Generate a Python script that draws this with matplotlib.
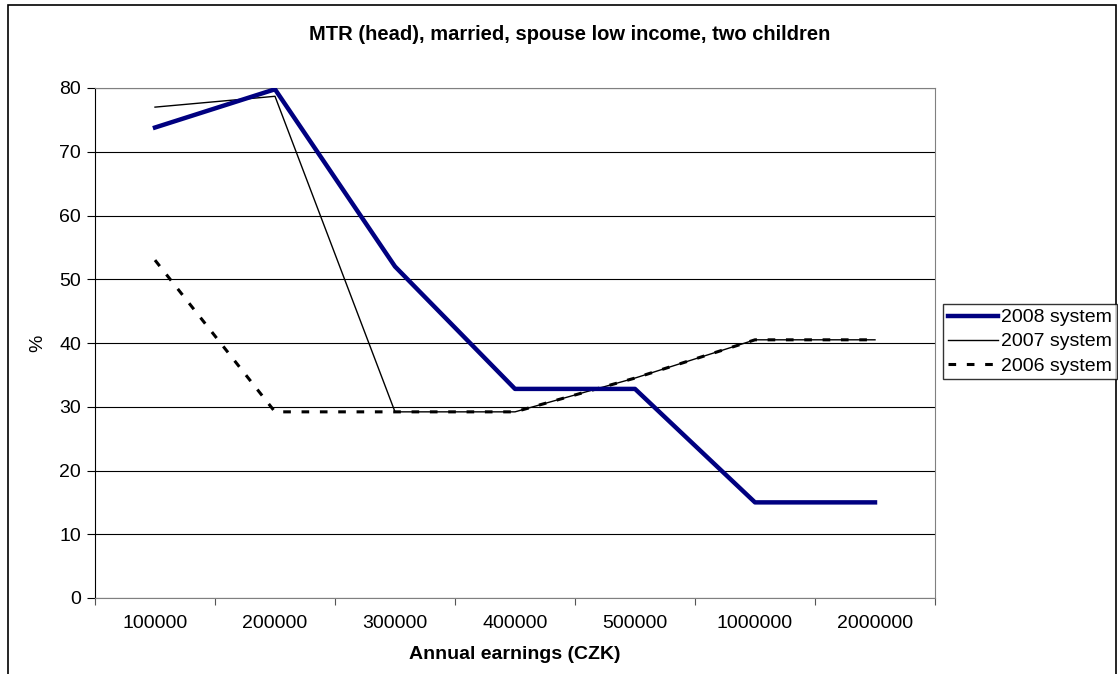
import matplotlib
matplotlib.use("Agg")
import matplotlib.pyplot as plt
from matplotlib.patches import Rectangle

categories = ["100000", "200000", "300000", "400000", "500000", "1000000", "2000000"]
sys2008 = [73.8, 79.8, 52.0, 32.8, 32.8, 15.0, 15.0]
sys2007 = [77.0, 78.7, 29.2, 29.2, 34.5, 40.5, 40.5]
sys2006 = [53.0, 29.2, 29.2, 29.2, 34.5, 40.5, 40.5]

W, H = 1118, 674
plt.rcParams['font.family'] = ['Liberation Sans', 'DejaVu Sans']
fig = plt.figure(figsize=(W/100, H/100), dpi=100)
FS = 14

# outer chart border
fig.patches.append(Rectangle((8/W, -0.1), (W-10)/W, (H-5)/H + 0.1, transform=fig.transFigure,
                             fill=False, edgecolor='black', linewidth=1.2))

ax = fig.add_axes([95/W, (H-598)/H, 840/W, 510/H])
x = list(range(len(categories)))
ax.plot(x, sys2008, color='#000080', linewidth=3.2, label='2008 system', zorder=4)
ax.plot(x, sys2007, color='black', linewidth=1.0, label='2007 system', zorder=3)
ax.plot(x, sys2006, color='black', linewidth=2.2, linestyle=(0, (2.5, 3.5)), label='2006 system', zorder=3)

ax.set_xlim(-0.5, len(categories) - 0.5)
ax.set_ylim(0, 80)
ax.set_yticks(range(0, 81, 10))
ax.yaxis.grid(True, color='black', linewidth=0.8)
ax.set_axisbelow(True)
ax.set_xticks([i - 0.5 for i in range(len(categories) + 1)])
ax.set_xticklabels([])
ax.set_xticks(x, minor=True)
ax.set_xticklabels(categories, minor=True, fontsize=FS)
ax.tick_params(axis='x', which='minor', length=0, pad=12)
ax.tick_params(axis='x', which='major', length=5, direction='out', color='#555555')
ax.tick_params(axis='y', length=6, direction='out', labelsize=FS, pad=4)
for s in ['top', 'right']:
    ax.spines[s].set_color('#808080')
ax.spines['bottom'].set_color('#808080')
ax.spines['left'].set_color('black')
ax.set_ylabel('%', fontsize=FS, labelpad=9)
ax.set_xlabel('Annual earnings (CZK)', fontsize=FS, fontweight='bold', labelpad=10)
fig.text(570/W, 1 - 34/H, 'MTR (head), married, spouse low income, two children',
         fontsize=14.5, fontweight='bold', ha='center', va='center')

leg = fig.legend(loc='upper left', bbox_to_anchor=(943/W, 1 - 304/H), fontsize=FS,
                 frameon=True, fancybox=False, edgecolor='black', handlelength=2.6,
                 handletextpad=0.15, borderpad=0.25, labelspacing=0.33, borderaxespad=0)
leg.get_frame().set_linewidth(1.0)

fig.savefig('out.png', dpi=100)
